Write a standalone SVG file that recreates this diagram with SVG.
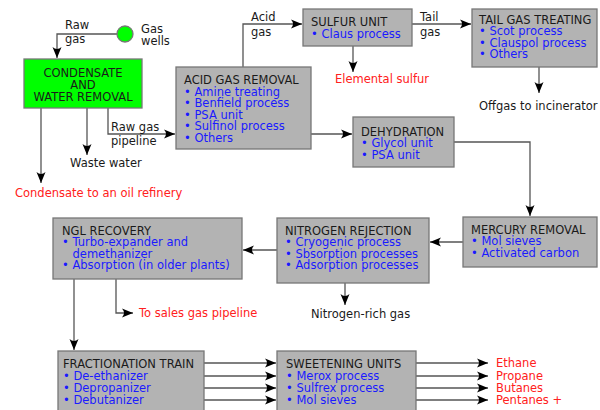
<svg xmlns="http://www.w3.org/2000/svg" width="600" height="410" viewBox="0 0 600 410">
<defs>
<marker id="arr" viewBox="-12 -6 13 12" refX="0" refY="0" markerWidth="13" markerHeight="12" markerUnits="userSpaceOnUse" orient="auto">
<path d="M0,0 L-11,-4.5 Q-7,0 -11,4.5 Z" fill="#000"/>
</marker>
</defs>
<style>
text{font-family:"DejaVu Sans","Liberation Sans",sans-serif;font-size:11.5px;fill:#1a1a1a}
.box{fill:#b3b3b3;stroke:#777;stroke-width:1.3}
.it{fill:#1a1aff}
.red{fill:#ff2020}
.c{fill:none;stroke:#555;stroke-width:1.3}
.a{marker-end:url(#arr)}
</style>
<rect width="600" height="410" fill="#fff"/>
<g id="connectors">
<path class="c a" d="M117,34 H57 V58"/>
<path class="c a" d="M41,108 V183"/>
<path class="c a" d="M87,108 V155"/>
<path class="c a" d="M108,108 V134 H175"/>
<path class="c a" d="M243,67 V24 H302"/>
<path class="c a" d="M353,46 V72"/>
<path class="c a" d="M412,24 H471"/>
<path class="c a" d="M539,67 V93"/>
<path class="c a" d="M311,134 H352"/>
<path class="c a" d="M454,142 H530 V216"/>
<path class="c a" d="M463,242 H430"/>
<path class="c a" d="M345,283 V305"/>
<path class="c a" d="M277,250 H243"/>
<path class="c a" d="M74,279 V350"/>
<path class="c a" d="M116,279 V313 H133"/>
<path class="c a" d="M204,363 H276"/>
<path class="c a" d="M204,376 H276"/>
<path class="c a" d="M204,388 H276"/>
<path class="c a" d="M204,400 H276"/>
<path class="c a" d="M416,363 H488"/>
<path class="c a" d="M416,376 H488"/>
<path class="c a" d="M416,388 H488"/>
<path class="c a" d="M416,400 H488"/>
</g>
<g id="labels">
<text x="65" y="29">Raw</text>
<text x="65" y="43">gas</text>
<text x="141" y="33">Gas</text>
<text x="141" y="45">wells</text>
<text x="111" y="131">Raw gas</text>
<text x="111" y="145">pipeline</text>
<text x="70" y="167">Waste water</text>
<text class="red" x="15" y="197">Condensate to an oil refinery</text>
<text x="251" y="21">Acid</text>
<text x="251" y="36">gas</text>
<text class="red" x="335" y="83">Elemental sulfur</text>
<text x="420" y="21">Tail</text>
<text x="420" y="36">gas</text>
<text x="479" y="110">Offgas to incinerator</text>
<text x="311" y="318">Nitrogen-rich gas</text>
<text class="red" x="139" y="317">To sales gas pipeline</text>
<text class="red" x="496" y="367">Ethane</text>
<text class="red" x="496" y="380">Propane</text>
<text class="red" x="496" y="392">Butanes</text>
<text class="red" x="496" y="404">Pentanes +</text>
</g>
<g id="gas-wells">
<circle cx="125" cy="34" r="8" fill="#00ff00" stroke="#777" stroke-width="1.3"/>
</g>
<g id="condensate">
<rect x="24" y="59" width="118" height="49" fill="#00ff00" stroke="#777" stroke-width="1.3"/>
<text x="83" y="77" text-anchor="middle">CONDENSATE</text>
<text x="83" y="89" text-anchor="middle">AND</text>
<text x="83" y="101" text-anchor="middle">WATER REMOVAL</text>
</g>
<g id="acid-gas-removal">
<rect class="box" x="176" y="67" width="135" height="82"/>
<text x="184" y="84">ACID GAS REMOVAL</text>
<text class="it" x="184" y="95.5">• Amine treating</text>
<text class="it" x="184" y="107">• Benfield process</text>
<text class="it" x="184" y="118.5">• PSA unit</text>
<text class="it" x="184" y="130">• Sulfinol process</text>
<text class="it" x="184" y="141.5">• Others</text>
</g>
<g id="sulfur-unit">
<rect class="box" x="303" y="9" width="109" height="37"/>
<text x="311" y="26">SULFUR UNIT</text>
<text class="it" x="311" y="37.5">• Claus process</text>
</g>
<g id="tail-gas">
<rect class="box" x="472" y="9" width="125" height="58"/>
<text x="479" y="23.5">TAIL GAS TREATING</text>
<text class="it" x="479" y="35">• Scot process</text>
<text class="it" x="479" y="46.5">• Clauspol process</text>
<text class="it" x="479" y="58">• Others</text>
</g>
<g id="dehydration">
<rect class="box" x="353" y="117" width="101" height="50"/>
<text x="361" y="135.5">DEHYDRATION</text>
<text class="it" x="361" y="147">• Glycol unit</text>
<text class="it" x="361" y="158.5">• PSA unit</text>
</g>
<g id="mercury">
<rect class="box" x="463" y="217" width="134" height="50"/>
<text x="471" y="233.5">MERCURY REMOVAL</text>
<text class="it" x="471" y="245">• Mol sieves</text>
<text class="it" x="471" y="256.5">• Activated carbon</text>
</g>
<g id="nitrogen">
<rect class="box" x="277" y="218" width="152" height="65"/>
<text x="285" y="234.5">NITROGEN REJECTION</text>
<text class="it" x="285" y="246">• Cryogenic process</text>
<text class="it" x="285" y="257.5">• Sbsorption processes</text>
<text class="it" x="285" y="269">• Adsorption processes</text>
</g>
<g id="ngl">
<rect class="box" x="53" y="218" width="189" height="61"/>
<text x="62" y="234.5">NGL RECOVERY</text>
<text class="it" x="62" y="246">• Turbo-expander and</text>
<text class="it" x="72.5" y="257.5">demethanizer</text>
<text class="it" x="62" y="269">• Absorption (in older plants)</text>
</g>
<g id="fractionation">
<rect class="box" x="58" y="351" width="146" height="65"/>
<text x="63" y="367.5">FRACTIONATION TRAIN</text>
<text class="it" x="63" y="380">• De-ethanizer</text>
<text class="it" x="63" y="392">• Depropanizer</text>
<text class="it" x="63" y="403.5">• Debutanizer</text>
</g>
<g id="sweetening">
<rect class="box" x="277" y="351" width="139" height="65"/>
<text x="286" y="367.5">SWEETENING UNITS</text>
<text class="it" x="286" y="380">• Merox process</text>
<text class="it" x="286" y="392">• Sulfrex process</text>
<text class="it" x="286" y="403.5">• Mol sieves</text>
</g>
</svg>
